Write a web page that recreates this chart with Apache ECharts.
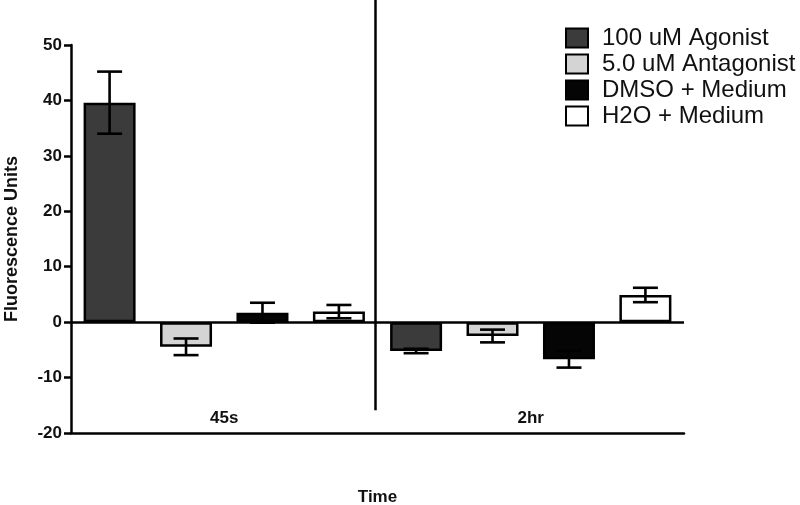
<!DOCTYPE html>
<html>
<head>
<meta charset="utf-8">
<script src="https://cdn.jsdelivr.net/npm/echarts@6/dist/echarts.min.js"></script>
<style>html,body{margin:0;padding:0;background:#fff;}#c{width:800px;height:505px;}</style>
</head>
<body>
<div id="c"></div>
<script>
var categories = ['45s', '2hr'];
var seriesNames = ['100 uM Agonist', '5.0 uM Antagonist', 'DMSO + Medium', 'H2O + Medium'];
var agonist = [39.6, -5.2];
var agonistErr = [5.6, 0.4];
var antagonist = [-4.45, -2.5];
var antagonistErr = [1.5, 1.15];
var dmso = [1.7, -6.7];
var dmsoErr = [1.8, 1.5];
var h2o = [1.9, 4.9];
var h2oErr = [1.2, 1.3];
var yTicks = [-20, -10, 0, 10, 20, 30, 40, 50];

var means = [agonist, antagonist, dmso, h2o];
var errs = [agonistErr, antagonistErr, dmsoErr, h2oErr];
var colors = ['#3b3b3b', '#d4d4d4', '#050505', '#ffffff'];
var BAR_W = 52, GAP = 0.47;

var chart = echarts.init(document.getElementById('c'), null, {renderer: 'canvas'});
var FONT = '"Liberation Sans", Arial, sans-serif';

var series = means.map(function (m, i) {
  var s = {
    name: seriesNames[i], type: 'bar', data: m,
    barWidth: BAR_W, barGap: (GAP * 100) + '%',
    itemStyle: {color: colors[i], borderColor: '#000', borderWidth: 2.5},
    z: 2
  };
  if (i === 0) {
    s.markLine = {
      silent: true, symbol: 'none', label: {show: false},
      lineStyle: {color: '#000', width: 2.5, type: 'solid'},
      data: [{yAxis: 0}], z: 5
    };
  }
  return s;
});

var errData = [];
means.forEach(function (m, s) {
  m.forEach(function (v, c) { errData.push([c, s, v, errs[s][c]]); });
});

series.push({
  type: 'custom', silent: true, z: 10,
  data: errData,
  encode: {x: 0, y: 2},
  renderItem: function (params, api) {
    var c = api.value(0), s = api.value(1), m = api.value(2), e = api.value(3);
    var off = (s - 1.5) * (BAR_W + BAR_W * GAP);
    var x = api.coord([c, m])[0] + off;
    var yTop = api.coord([c, m + e])[1];
    var yBot = api.coord([c, m - e])[1];
    var hw = 12.5;
    var st = {stroke: '#000', lineWidth: 2.6};
    return {type: 'group', children: [
      {type: 'line', shape: {x1: x, y1: yTop, x2: x, y2: yBot}, style: st},
      {type: 'line', shape: {x1: x - hw, y1: yTop, x2: x + hw, y2: yTop}, style: st},
      {type: 'line', shape: {x1: x - hw, y1: yBot, x2: x + hw, y2: yBot}, style: st}
    ]};
  }
});

chart.setOption({
  animation: false,
  backgroundColor: '#fff',
  grid: {left: 71, right: 116, top: 45, bottom: 72, containLabel: false, outerBoundsMode: 'none'},
  legend: {
    orient: 'vertical', left: 560, top: 21,
    itemWidth: 22, itemHeight: 19, itemGap: 2,
    icon: 'rect',
    data: seriesNames,
    textStyle: {fontSize: 24, color: '#111', fontFamily: FONT, padding: [0, 0, 0, 9]}
  },
  xAxis: {
    type: 'category', data: categories,
    axisLine: {onZero: false, lineStyle: {color: '#000', width: 2.5}},
    axisTick: {show: false},
    axisLabel: {inside: true, margin: 6, fontSize: 17, fontWeight: 'bold', color: '#111', fontFamily: FONT},
    name: 'Time', nameLocation: 'middle', nameGap: 56,
    nameTextStyle: {fontSize: 17, fontWeight: 'bold', color: '#111', fontFamily: FONT}
  },
  yAxis: {
    type: 'value', min: -20, max: 50, interval: 10,
    axisLine: {show: true, lineStyle: {color: '#000', width: 2.5}},
    axisTick: {show: true, length: 7, lineStyle: {color: '#000', width: 2.5}},
    splitLine: {show: false},
    axisLabel: {margin: 9, fontSize: 17, fontWeight: 'bold', color: '#111', fontFamily: FONT,
      formatter: function (v) { return yTicks.indexOf(v) >= 0 ? String(v) : ''; }},
    name: 'Fluorescence Units', nameLocation: 'middle', nameGap: 50,
    nameTextStyle: {fontSize: 18, fontWeight: 'bold', color: '#111', fontFamily: FONT}
  },
  series: series
});

var x0 = chart.convertToPixel({xAxisIndex: 0}, 0);
var x1 = chart.convertToPixel({xAxisIndex: 0}, 1);
var xm = (x0 + x1) / 2 - 2;
var yb = chart.convertToPixel({yAxisIndex: 0}, -15.9);
chart.setOption({
  graphic: [{type: 'line', shape: {x1: xm, y1: 0, x2: xm, y2: yb}, style: {stroke: '#000', lineWidth: 2.5}, z: 20}]
});
</script>
</body>
</html>
